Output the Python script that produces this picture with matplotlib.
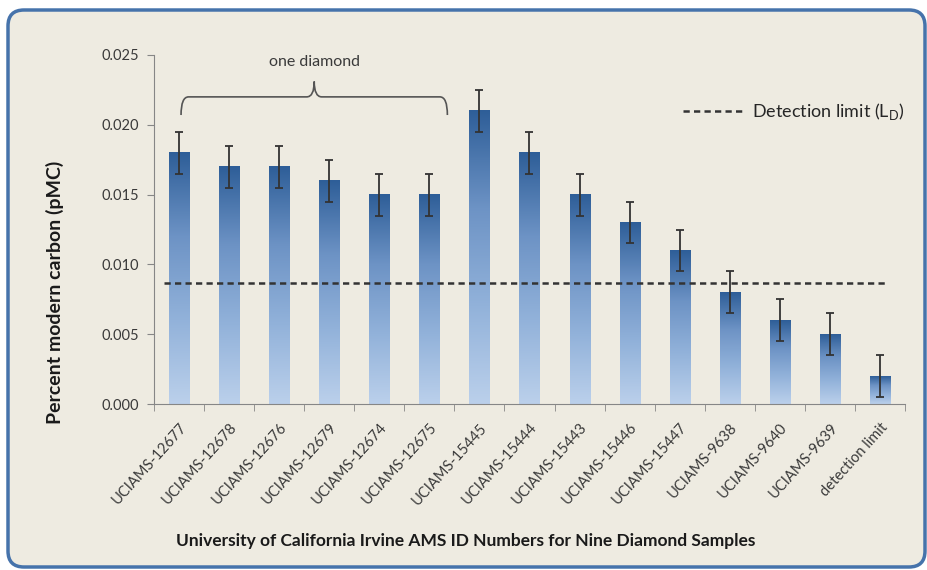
import numpy as np
import matplotlib
matplotlib.use('Agg')
import matplotlib.pyplot as plt
from matplotlib.colors import LinearSegmentedColormap
from matplotlib.patches import FancyBboxPatch, PathPatch
from matplotlib.path import Path
from matplotlib.lines import Line2D

plt.rcParams['font.family'] = ['Lato', 'DejaVu Sans']
plt.rcParams['mathtext.fontset'] = 'custom'
plt.rcParams['mathtext.rm'] = 'Lato'

# data
samples = ['UCIAMS-12677', 'UCIAMS-12678', 'UCIAMS-12676', 'UCIAMS-12679',
           'UCIAMS-12674', 'UCIAMS-12675', 'UCIAMS-15445', 'UCIAMS-15444',
           'UCIAMS-15443', 'UCIAMS-15446', 'UCIAMS-15447', 'UCIAMS-9638',
           'UCIAMS-9640', 'UCIAMS-9639', 'detection limit']
pmc = [0.018, 0.017, 0.017, 0.016, 0.015, 0.015, 0.021, 0.018,
       0.015, 0.013, 0.011, 0.008, 0.006, 0.005, 0.002]
pmc_err = [0.0015] * 15
detection_limit = 0.0087

bg = '#EEEBE1'
txt = '#3a3a3a'
dash = (0, (2.5, 1.7))

fig = plt.figure(figsize=(9.27, 5.70), dpi=100, facecolor='white')
# rounded frame
frame = FancyBboxPatch((0.08, 0.03), 9.17, 5.57, boxstyle='round,pad=0,rounding_size=0.16',
                       transform=fig.dpi_scale_trans, facecolor=bg, edgecolor='#4673AB',
                       linewidth=2.5, zorder=-1)
fig.patches.append(frame)

ax = fig.add_axes([154 / 927, 1 - 404 / 570, 751 / 927, 349 / 570])
ax.set_facecolor('none')

x = np.arange(len(samples))
width = 0.4
cmap = LinearSegmentedColormap.from_list('bar', ['#BBD0EB', '#92B2DA', '#6D93C5', '#2E5E98'])
grad = np.linspace(0, 1, 256).reshape(-1, 1)

bars = ax.bar(x, pmc, width=width, color='none', zorder=2)
for b in bars:
    x0, w, h = b.get_x(), b.get_width(), b.get_height()
    ax.imshow(grad, cmap=cmap, origin='lower', aspect='auto',
              extent=[x0, x0 + w, 0, h], zorder=2)
ax.errorbar(x, pmc, yerr=pmc_err, fmt='none', ecolor='#333333',
            elinewidth=1.3, capsize=3, capthick=1.3, zorder=4)

ax.hlines(detection_limit, -0.3, 14.14, colors='#333333', linestyles=dash,
          linewidth=1.8, zorder=3)

# brace over the first six bars
x0b, x1b = 0.04, 5.36
xm = (x0b + x1b) / 2
yb, ye, yt = 0.0220, 0.0207, 0.0231
dx = 0.15
verts = [(x0b, ye), (x0b, yb), (x0b + dx, yb), (xm - dx, yb), (xm, yb), (xm, yt),
         (xm, yb), (xm + dx, yb), (x1b - dx, yb), (x1b, yb), (x1b, ye)]
codes = [Path.MOVETO, Path.CURVE3, Path.CURVE3, Path.LINETO, Path.CURVE3, Path.CURVE3,
         Path.CURVE3, Path.CURVE3, Path.LINETO, Path.CURVE3, Path.CURVE3]
ax.add_patch(PathPatch(Path(verts, codes), facecolor='none', edgecolor='#555555',
                       linewidth=1.2, zorder=3))
ax.text(xm, 0.0245, 'one diamond', ha='center', va='center', fontsize=11.5, color=txt)

ax.set_xlim(-0.5, 14.5)
ax.set_ylim(0, 0.025)
ax.set_yticks(np.arange(0, 0.0251, 0.005))
ax.set_yticklabels(['%.3f' % v for v in np.arange(0, 0.0251, 0.005)])
ax.set_xticks(x)
ax.set_xticklabels(samples, rotation=48, ha='right', rotation_mode='anchor')
ax.set_xticks(np.arange(-0.5, 15, 1), minor=True)
ax.tick_params(axis='x', which='major', length=0, pad=12, labelsize=10.5, labelcolor=txt)
ax.tick_params(axis='x', which='minor', length=5, color='#868686')
ax.tick_params(axis='y', length=5, color='#868686', labelsize=10.5, labelcolor=txt, pad=6)
for s in ['top', 'right']:
    ax.spines[s].set_visible(False)
for s in ['left', 'bottom']:
    ax.spines[s].set_color('#868686')

leg = ax.legend(handles=[Line2D([], [], color='#333333', linestyle=dash, linewidth=1.8)],
                labels=['Detection limit (L$_\\mathrm{D}$)'], loc='center left',
                bbox_to_anchor=(0.704, 0.837), frameon=False, handlelength=3.4,
                handletextpad=0.45, borderpad=0, borderaxespad=0, fontsize=13)
for t in leg.get_texts():
    t.set_color('#262626')

fig.text(55 / 927, 1 - 292 / 570, 'Percent modern carbon (pMC)', rotation=90,
         ha='center', va='center', fontsize=14, fontweight='bold', color='#1a1a1a')
fig.text(466 / 927, 1 - 541 / 570,
         'University of California Irvine AMS ID Numbers for Nine Diamond Samples',
         ha='center', va='center', fontsize=12.5, fontweight='bold', color='#1a1a1a')

fig.savefig('out.png', dpi=100, facecolor='white')
